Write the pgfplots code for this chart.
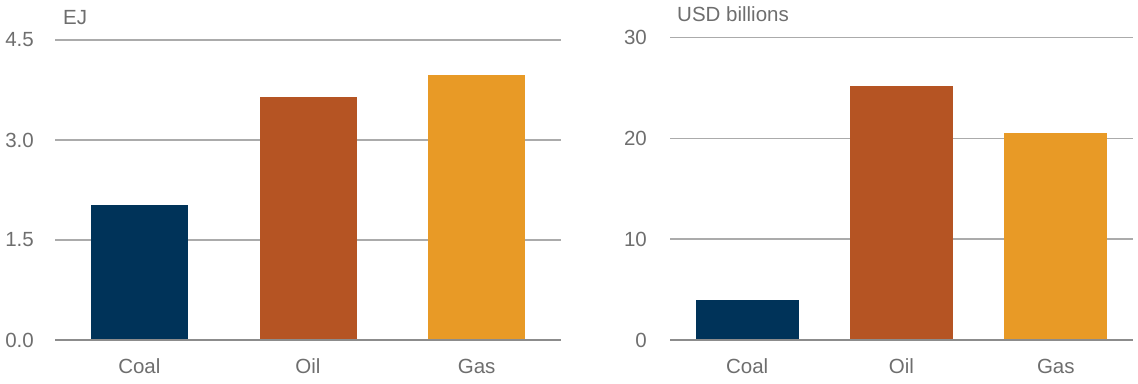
\documentclass[border=0pt]{standalone}
\usepackage{pgfplots}
\pgfplotsset{compat=1.18}
\usepackage{fontspec}
\setmainfont{Liberation Sans}
\definecolor{navy}{HTML}{003359}
\definecolor{rust}{HTML}{B55423}
\definecolor{amber}{HTML}{E89A26}
\definecolor{txtgray}{HTML}{6E6E6E}
\definecolor{gridgray}{HTML}{ABABAB}
\definecolor{basegray}{HTML}{8C8C8C}
\newcommand{\lblfont}{\fontsize{20.5bp}{24bp}\selectfont}
\pgfplotsset{
  panel/.style={
    anchor=south west,
    scale only axis,
    xmin=-0.5, xmax=2.5,
    ymin=0,
    clip=false,
    axis line style={draw=none},
    tick style={draw=none},
    xtick={0,1,2},
    xticklabels={Coal,Oil,Gas},
    ymajorgrids,
    major grid style={gridgray, line width=1.6bp},
    ticklabel style={font=\lblfont, text=txtgray},
    xticklabel style={anchor=base, inner sep=0pt, yshift=-33bp},
  }
}
\begin{document}
\begin{tikzpicture}
\useasboundingbox (0,0) rectangle (1138bp,384bp);
% Left panel
\begin{axis}[panel,
  at={(55bp,44bp)}, width=506bp, height=300bp,
  ymax=4.5,
  ytick={0,1.5,3,4.5},
  yticklabels={0.0,1.5,3.0,4.5},
  yticklabel style={anchor=east, inner sep=0pt, xshift=-21bp},
]
\addplot[ybar, bar shift=0pt, bar width=97bp, fill=navy, draw=none] coordinates {(0,2.02)};
\addplot[ybar, bar shift=0pt, bar width=97bp, fill=rust, draw=none] coordinates {(1,3.645)};
\addplot[ybar, bar shift=0pt, bar width=97bp, fill=amber, draw=none] coordinates {(2,3.975)};
\draw[basegray, line width=2bp] (axis cs:-0.5,0) -- (axis cs:2.5,0);
\end{axis}
% Right panel
\begin{axis}[panel,
  at={(670bp,44bp)}, width=463bp, height=302.5bp,
  ymax=30,
  ytick={0,10,20,30},
  yticklabels={0,10,20,30},
  yticklabel style={anchor=east, inner sep=0pt, xshift=-23bp},
]
\addplot[ybar, bar shift=0pt, bar width=103bp, fill=navy, draw=none] coordinates {(0,3.97)};
\addplot[ybar, bar shift=0pt, bar width=103bp, fill=rust, draw=none] coordinates {(1,25.2)};
\addplot[ybar, bar shift=0pt, bar width=103bp, fill=amber, draw=none] coordinates {(2,20.55)};
\draw[basegray, line width=2bp] (axis cs:-0.5,0) -- (axis cs:2.5,0);
\end{axis}
\node[anchor=base west, inner sep=0pt, font=\lblfont, text=txtgray] at (63bp,359bp) {EJ};
\node[anchor=base west, inner sep=0pt, font=\lblfont, text=txtgray] at (677bp,362.3bp) {USD billions};
\end{tikzpicture}
\end{document}
